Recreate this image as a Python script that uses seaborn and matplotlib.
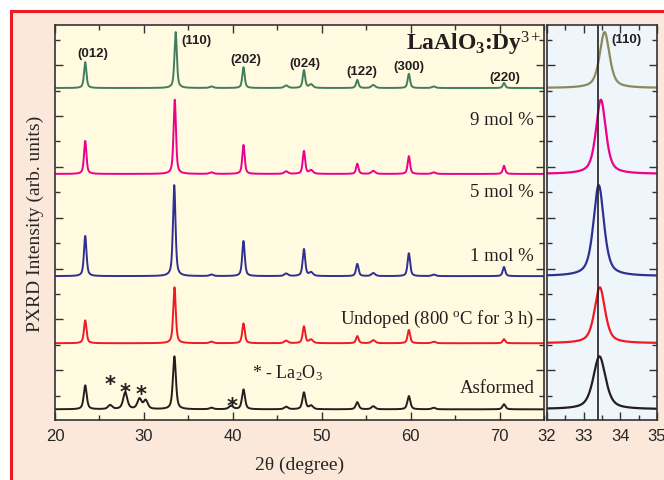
import numpy as np
import pandas as pd
import matplotlib
matplotlib.use("Agg")
import matplotlib.pyplot as plt
from matplotlib.patches import Rectangle
from matplotlib.ticker import MultipleLocator
import seaborn as sns

# ---- values ----
samples = ["Asformed", "Undoped", "1 mol %", "5 mol %", "9 mol %"]
colors = ["#231f20", "#ed1c24", "#2e3192", "#ec008c", "#3f7f5f"]
zoom_colors = ["#231f20", "#ed1c24", "#2e3192", "#ec008c", "#8c8a5a"]
baselines = [-0.77, 0.53, 1.85, 3.86, 5.55]

hkl = ["(012)", "(110)", "(202)", "(024)", "(122)", "(300)", "(220)"]
peak_pos = [23.4, 33.45, 41.2, 48.0, 54.0, 59.8, 70.5]
peak_110 = [33.43, 33.44, 33.41, 33.47, 33.57]   # (110) position per sample
peak_fwhm = [0.40, 0.34, 0.34, 0.32, 0.32]

h_asformed = [0.47, 1.04, 0.39, 0.33, 0.14, 0.26, 0.10]
h_undoped = [0.45, 1.10, 0.39, 0.33, 0.14, 0.26, 0.08]
h_1mol = [0.79, 1.79, 0.69, 0.53, 0.24, 0.45, 0.18]
h_5mol = [0.65, 1.46, 0.57, 0.45, 0.20, 0.35, 0.16]
h_9mol = [0.51, 1.10, 0.41, 0.35, 0.16, 0.28, 0.10]
heights = [h_asformed, h_undoped, h_1mol, h_5mol, h_9mol]

# weak extra reflections seen in all patterns
minor_pos = [37.6, 46.0, 48.8, 55.8, 62.6]
minor_h = [0.03, 0.05, 0.07, 0.06, 0.03]

# La2O3 impurity peaks (as-formed only)
la2o3_pos = [26.2, 27.9, 29.5, 30.2, 39.8]
la2o3_h = [0.08, 0.33, 0.20, 0.17, 0.07]

series_labels = ["Asformed", r"Undoped (800 $^{\rm o}$C for 3 h)", "1 mol %", "5 mol %", "9 mol %"]


def pvoigt(x, pos, h, w, eta=0.6):
    # peak shape used to draw each read-off reflection
    d = (x - pos) / w
    return h * (eta / (1 + 4 * d ** 2) + (1 - eta) * np.exp(-4 * np.log(2) * d ** 2))


tt = np.round(np.arange(20, 75.001, 0.01), 2)
frames = []
for i, name in enumerate(samples):
    pos = list(peak_pos)
    pos[1] = peak_110[i]
    y = np.full_like(tt, baselines[i])
    for p, h in zip(pos, heights[i]):
        y = y + pvoigt(tt, p, h, peak_fwhm[i])
    for p, h in zip(minor_pos, minor_h):
        y = y + pvoigt(tt, p, h, 0.5)
    if name == "Asformed":
        for p, h in zip(la2o3_pos, la2o3_h):
            y = y + pvoigt(tt, p, h, 0.55)
    frames.append(pd.DataFrame({"two_theta": tt, "intensity": y, "sample": name}))
df = pd.concat(frames, ignore_index=True)
zoom_df = df[(df["two_theta"] >= 31.9) & (df["two_theta"] <= 35.1)]

# ---- style ----
sns.set_style("ticks")
plt.rcParams["font.family"] = ["Liberation Sans", "DejaVu Sans"]
plt.rcParams["mathtext.fontset"] = "custom"
plt.rcParams["mathtext.rm"] = "Liberation Serif"
plt.rcParams["mathtext.bf"] = "Liberation Serif:bold"
plt.rcParams["mathtext.it"] = "Liberation Serif:italic"
serif = "Liberation Serif"

fig = plt.figure(figsize=(6.64, 4.81), dpi=100, facecolor="white")
fig.add_artist(Rectangle((10.5 / 664, -0.05), 1.1, 1 - 12 / 481 + 0.05,
                         transform=fig.transFigure, facecolor="#fbe8da",
                         edgecolor="#ed1c24", lw=2.2, zorder=-10))

ax = fig.add_axes([55 / 664, 1 - 421 / 481, 489 / 664, 395 / 481])
ax2 = fig.add_axes([547 / 664, 1 - 421 / 481, 110 / 664, 395 / 481])

sns.lineplot(data=df, x="two_theta", y="intensity", hue="sample",
             palette=dict(zip(samples, colors)), estimator=None, sort=False,
             lw=1.4, legend=False, ax=ax)
sns.lineplot(data=zoom_df, x="two_theta", y="intensity", hue="sample",
             palette=dict(zip(samples, zoom_colors)), estimator=None, sort=False,
             lw=1.6, legend=False, ax=ax2)
ax2.axvline(33.40, color="#231f20", lw=1.2)

for a, bg in [(ax, "#fffae0"), (ax2, "#eef5fb")]:
    a.set_facecolor(bg)
    a.set_ylim(-0.98, 6.79)
    a.yaxis.set_major_locator(MultipleLocator(1))
    a.yaxis.set_minor_locator(MultipleLocator(0.5))
    a.tick_params(which="both", direction="in", top=True, right=True,
                  labelleft=False, width=1, color="#333333")
    a.tick_params(which="major", length=6, labelsize=12, pad=6)
    a.tick_params(which="minor", length=3.5)
    for s in a.spines.values():
        s.set_linewidth(1.2)
        s.set_color("#333333")
    a.set_xlabel("")
    a.set_ylabel("")

ax.set_xlim(20, 75)
ax.xaxis.set_major_locator(MultipleLocator(10))
ax.xaxis.set_minor_locator(MultipleLocator(5))
ax2.set_xlim(32, 35)
ax2.xaxis.set_major_locator(MultipleLocator(1))
ax2.xaxis.set_minor_locator(MultipleLocator(0.5))

ax.set_xlabel("2θ (degree)", family=serif, fontsize=14, labelpad=9)
ax.set_ylabel("PXRD Intensity (arb. units)", family=serif, fontsize=14, labelpad=8)

# hkl labels
label_xy = [(24.28, 6.24), (35.88, 6.50), (41.51, 6.12), (48.15, 6.05),
            (54.46, 5.89), (59.75, 5.99), (70.56, 5.77)]
for lab, (x, y) in zip(hkl, label_xy):
    ax.text(x, y, lab, fontsize=9.5, fontweight="bold", ha="center", va="center",
            color="#231f20")
ax2.text(34.18, 6.52, hkl[1], fontsize=9.5, fontweight="bold", ha="center",
         va="center", color="#231f20")

ax.text(0.995, 0.938, r"LaAlO$_{\mathbf{3}}$:Dy$^{3+}$", transform=ax.transAxes,
        family=serif, fontweight="bold", fontsize=17, ha="right", va="baseline",
        color="#231f20")

# series labels
label_y = [-0.35, 1.01, 2.25, 3.51, 4.94]
for lab, y in zip(series_labels, label_y):
    ax.text(73.9, y, lab, family=serif, fontsize=13.5, ha="right", va="center",
            color="#231f20")

ax.text(46.1, -0.04, r"* - La$_2$O$_3$", family=serif, fontsize=13, ha="center",
        va="center", color="#231f20")
for x, y in [(26.2, -0.15), (27.9, -0.31), (29.65, -0.35), (39.9, -0.59)]:
    ax.text(x, y - 0.24, "*", family="DejaVu Sans", fontweight="bold", fontsize=15,
            ha="center", va="baseline", color="#231f20")

fig.savefig("out.png", dpi=100, facecolor=fig.get_facecolor())
